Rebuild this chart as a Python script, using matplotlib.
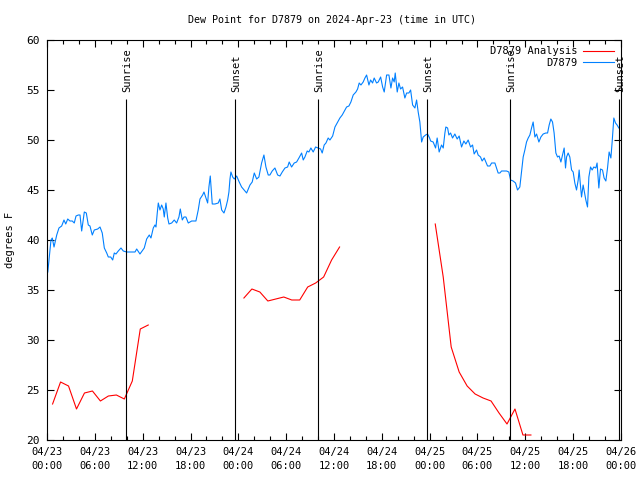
import numpy as np
import matplotlib
matplotlib.use('Agg')
import matplotlib.pyplot as plt
from matplotlib.lines import Line2D

# hours since 2024-04-23 00:00 UTC
obs_hours = [0.1, 0.5, 0.66, 0.88, 1.22, 1.5, 1.84, 2.13, 2.35, 2.6, 2.88, 3.17, 3.42, 3.64, 3.93,
             4.14, 4.35, 4.68, 4.93, 5.18, 5.39, 5.68, 5.93, 6.36, 6.65, 6.93, 7.19, 7.49, 7.69, 7.99,
             8.24, 8.44, 8.65, 8.94, 9.28, 9.57, 9.99, 11.04, 11.25, 11.66, 12.2, 12.5, 12.83, 13.04,
             13.33, 13.54, 13.67, 13.83, 13.96, 14.17, 14.38, 14.58, 14.71, 14.92, 15.14, 15.3, 15.64,
             15.96, 16.26, 16.55, 16.72, 16.97, 17.18, 17.43, 17.72, 18.15, 18.68, 18.97, 19.19, 19.52,
             19.69, 19.9, 20.15, 20.31, 20.48, 20.73, 21.07, 21.48, 21.69, 21.91, 22.2, 22.45, 22.66,
             22.82, 22.95, 23.07, 23.29, 23.49, 23.79, 24.11, 24.41, 25.04, 25.46, 25.74, 26.0, 26.3,
             26.58, 26.92, 27.21, 27.46, 27.75, 27.96, 28.25, 28.59, 28.93, 29.22, 29.51, 29.85, 30.18,
             30.38, 30.68, 31.01, 31.31, 31.6, 31.94, 32.14, 32.35, 32.64, 32.85, 33.1, 33.39, 33.69,
             34.02, 34.32, 34.52, 34.77, 34.99, 35.27, 35.49, 35.83, 36.12, 36.4, 36.74, 37.03, 37.24,
             37.58, 37.87, 38.12, 38.41, 38.75, 38.96, 39.16, 39.38, 39.66, 39.88, 40.09, 40.38, 40.59,
             40.84, 41.04, 41.34, 41.55, 41.85, 42.1, 42.3, 42.6, 42.89, 43.14, 43.35, 43.55, 43.68,
             43.93, 44.14, 44.35, 44.6, 44.89, 45.11, 45.39, 45.61, 45.86, 46.15, 46.36, 46.56, 46.77,
             46.99, 47.19, 47.49, 47.74, 47.99, 48.12, 48.44, 48.74, 48.94, 49.19, 49.49, 49.7, 49.91,
             50.03, 50.25, 50.41, 50.62, 50.87, 51.16, 51.45, 51.7, 52.0, 52.29, 52.54, 52.83, 53.13,
             53.38, 53.58, 53.88, 54.08, 54.38, 54.58, 54.84, 55.05, 55.26, 55.55, 55.77, 56.18, 56.39,
             56.59, 56.81, 57.02, 57.65, 57.93, 58.15, 58.47, 58.77, 59.02, 59.31, 59.53, 59.73, 59.94,
             60.15, 60.36, 60.57, 60.78, 60.98, 61.2, 61.41, 61.7, 61.95, 62.24, 62.57, 62.79, 62.99,
             63.2, 63.41, 63.61, 63.83, 64.04, 64.24, 64.46, 64.67, 64.87, 65.04, 65.17, 65.37, 65.58,
             65.8, 66.0, 66.21, 66.42, 66.63, 66.75, 66.93, 67.05, 67.25, 67.47, 67.59, 67.8, 67.97,
             68.18, 68.38, 68.59, 68.84, 69.0, 69.22, 69.43, 69.68, 69.88, 70.1, 70.31, 70.51, 70.73,
             70.89, 71.1, 71.31, 71.51, 71.73]
obs_dewpt = [36.8, 40.0, 40.2, 39.3, 40.5, 41.2, 41.4, 42.0, 41.6, 42.1, 41.9, 41.9, 41.7, 42.4, 42.5,
             42.5, 40.9, 42.8, 42.7, 41.5, 41.4, 40.5, 41.0, 41.1, 41.3, 40.7, 39.2, 38.7, 38.3, 38.3,
             38.0, 38.7, 38.6, 38.9, 39.2, 38.9, 38.8, 38.8, 39.1, 38.6, 39.2, 40.1, 40.5, 40.2,
             41.2, 41.5, 41.3, 42.7, 43.7, 43.0, 43.5, 43.1, 42.3, 43.7, 42.2, 41.6, 41.7,
             42.0, 41.7, 42.3, 43.1, 42.0, 42.3, 42.3, 41.7, 41.9, 41.9, 43.0, 44.1, 44.5,
             44.8, 44.3, 43.7, 45.3, 46.4, 43.6, 43.6, 43.7, 44.1, 43.0, 42.7, 43.3, 44.0,
             44.8, 46.1, 46.8, 46.3, 46.1, 46.4, 45.8, 45.3, 44.7, 45.5, 45.8, 46.7, 46.1,
             46.3, 47.7, 48.5, 47.3, 46.5, 46.5, 46.9, 47.2, 46.5, 46.4, 46.8, 47.2, 47.3,
             47.8, 47.3, 47.7, 47.8, 48.2, 48.7, 48.0, 48.3, 48.9, 48.8, 49.2, 48.8, 49.3,
             49.2, 49.1, 48.7, 49.5, 49.7, 50.2, 50.0, 50.4, 51.3, 51.7, 52.2, 52.5, 52.8,
             53.3, 53.4, 53.8, 54.5, 54.8, 55.1, 55.7, 55.5, 55.8, 56.2, 56.5, 55.5, 56.0,
             55.7, 56.2, 55.7, 55.8, 56.3, 55.3, 54.8, 56.5, 56.5, 55.2, 56.2, 55.8, 56.7,
             54.8, 55.7, 55.1, 55.3, 54.2, 54.7, 54.7, 55.0, 53.5, 53.2, 54.0, 52.8, 51.8,
             49.8, 50.3, 50.5, 50.6, 50.2, 49.9, 49.8, 49.2, 50.2, 48.8, 49.5, 49.2, 50.7,
             51.3, 51.2, 50.5, 50.7, 50.2, 50.6, 50.1, 50.4, 49.3, 49.9, 49.6, 50.0, 49.3,
             49.5, 48.6, 49.0, 48.5, 48.3, 47.9, 48.2, 47.8, 47.4, 47.4, 47.7, 47.7, 47.2,
             46.7, 46.7, 46.9, 46.9, 46.8, 46.0, 45.9, 45.7, 45.0, 45.3, 46.9, 48.3, 49.0,
             49.8, 50.2, 50.5, 51.2, 51.8, 50.3, 50.6, 49.8, 50.3, 50.6, 50.7, 50.7, 51.5,
             52.1, 51.8, 50.7, 48.7, 48.3, 48.4, 47.8, 48.5, 49.2, 47.2, 48.3, 48.7, 48.3,
             47.0, 46.8, 45.7, 45.0, 46.0, 47.0, 45.3, 44.3, 45.5, 44.5, 44.0, 43.3, 46.3,
             47.3, 47.0, 47.3, 47.2, 47.7, 45.2, 47.1, 47.0, 46.2, 45.9, 47.2, 48.8, 48.2,
             49.8, 52.2, 51.7, 51.5, 51.2]

# analysis: hourly, three runs with gaps
ana_hours = [0.7, 1.7, 2.7, 3.7, 4.7, 5.7, 6.7, 7.7, 8.7, 9.7, 10.7, 11.7, 12.7, np.nan,
             24.7, 25.7, 26.7, 27.7, 28.7, 29.7, 30.7, 31.7, 32.7, 33.7, 34.7, 35.7, 36.7, np.nan,
             48.7, 49.7, 50.7, 51.7, 52.7, 53.7, 54.7, 55.7, 56.7, 57.7, 58.7, 59.7, 60.7]
ana_dewpt = [23.6, 25.8, 25.4, 23.1, 24.7, 24.9, 23.9, 24.4, 24.5, 24.1, 25.9, 31.1, 31.5, np.nan,
             34.2, 35.1, 34.8, 33.9, 34.1, 34.3, 34.0, 34.0, 35.3, 35.7, 36.3, 38.0, 39.3, np.nan,
             41.6, 36.3, 29.3, 26.8, 25.4, 24.6, 24.2, 23.9, 22.7, 21.6, 23.1, 20.5, 20.5]

sun_hours = [9.9, 23.58, 33.99, 47.66, 58.07, 71.73]
sun_names = ['Sunrise', 'Sunset', 'Sunrise', 'Sunset', 'Sunrise', 'Sunset']

tick_hours = list(range(0, 73, 6))
tick_labels = ['04/23\n00:00', '04/23\n06:00', '04/23\n12:00', '04/23\n18:00',
               '04/24\n00:00', '04/24\n06:00', '04/24\n12:00', '04/24\n18:00',
               '04/25\n00:00', '04/25\n06:00', '04/25\n12:00', '04/25\n18:00',
               '04/26\n00:00']

plt.rcParams['font.family'] = ['DejaVu Sans Mono']
fs = 7.5

fig = plt.figure(figsize=(6.4, 4.8), dpi=100)
ax = fig.add_axes([47/640, 1-440/480, 574/640, 400/480])

ax.plot(ana_hours, ana_dewpt, color='#ff0000', lw=0.8)
ax.plot(obs_hours, obs_dewpt, color='#0080ff', lw=0.8)

for h, name in zip(sun_hours, sun_names):
    ax.vlines(h, 20, 54.1, color='black', lw=0.8)
    ax.text(h + 0.12, 54.8, name, rotation=90, ha='center', va='bottom', fontsize=fs)

ax.set_xlim(0, 72)
ax.set_ylim(20, 60)
ax.set_xticks(tick_hours)
ax.set_xticklabels(tick_labels, fontsize=fs, linespacing=1.45)
ax.set_xticks(range(0, 73, 2), minor=True)
ax.set_yticks(range(20, 61, 5))
ax.set_yticklabels([str(v) for v in range(20, 61, 5)], fontsize=fs + 0.5)
ax.tick_params(which='both', direction='in', top=True, right=True, width=0.8)
ax.tick_params(which='major', length=5, pad=5)
ax.tick_params(which='minor', length=3)
for s in ax.spines.values():
    s.set_linewidth(0.8)

ax.set_ylabel('degrees F', fontsize=fs, labelpad=8)
fig.text(0.518, 1-20/480, 'Dew Point for D7879 on 2024-Apr-23 (time in UTC)',
         ha='center', va='center', fontsize=7.2)

handles = [Line2D([], [], color='#ff0000', lw=0.8), Line2D([], [], color='#0080ff', lw=0.8)]
ax.legend(handles, ['D7879 Analysis', 'D7879'], loc='upper right', frameon=False,
          markerfirst=False, fontsize=fs, handlelength=2.9, handletextpad=0.6,
          labelspacing=0.15, borderaxespad=0.2, bbox_to_anchor=(0.998, 1.0))

fig.savefig('out.png', dpi=100)
